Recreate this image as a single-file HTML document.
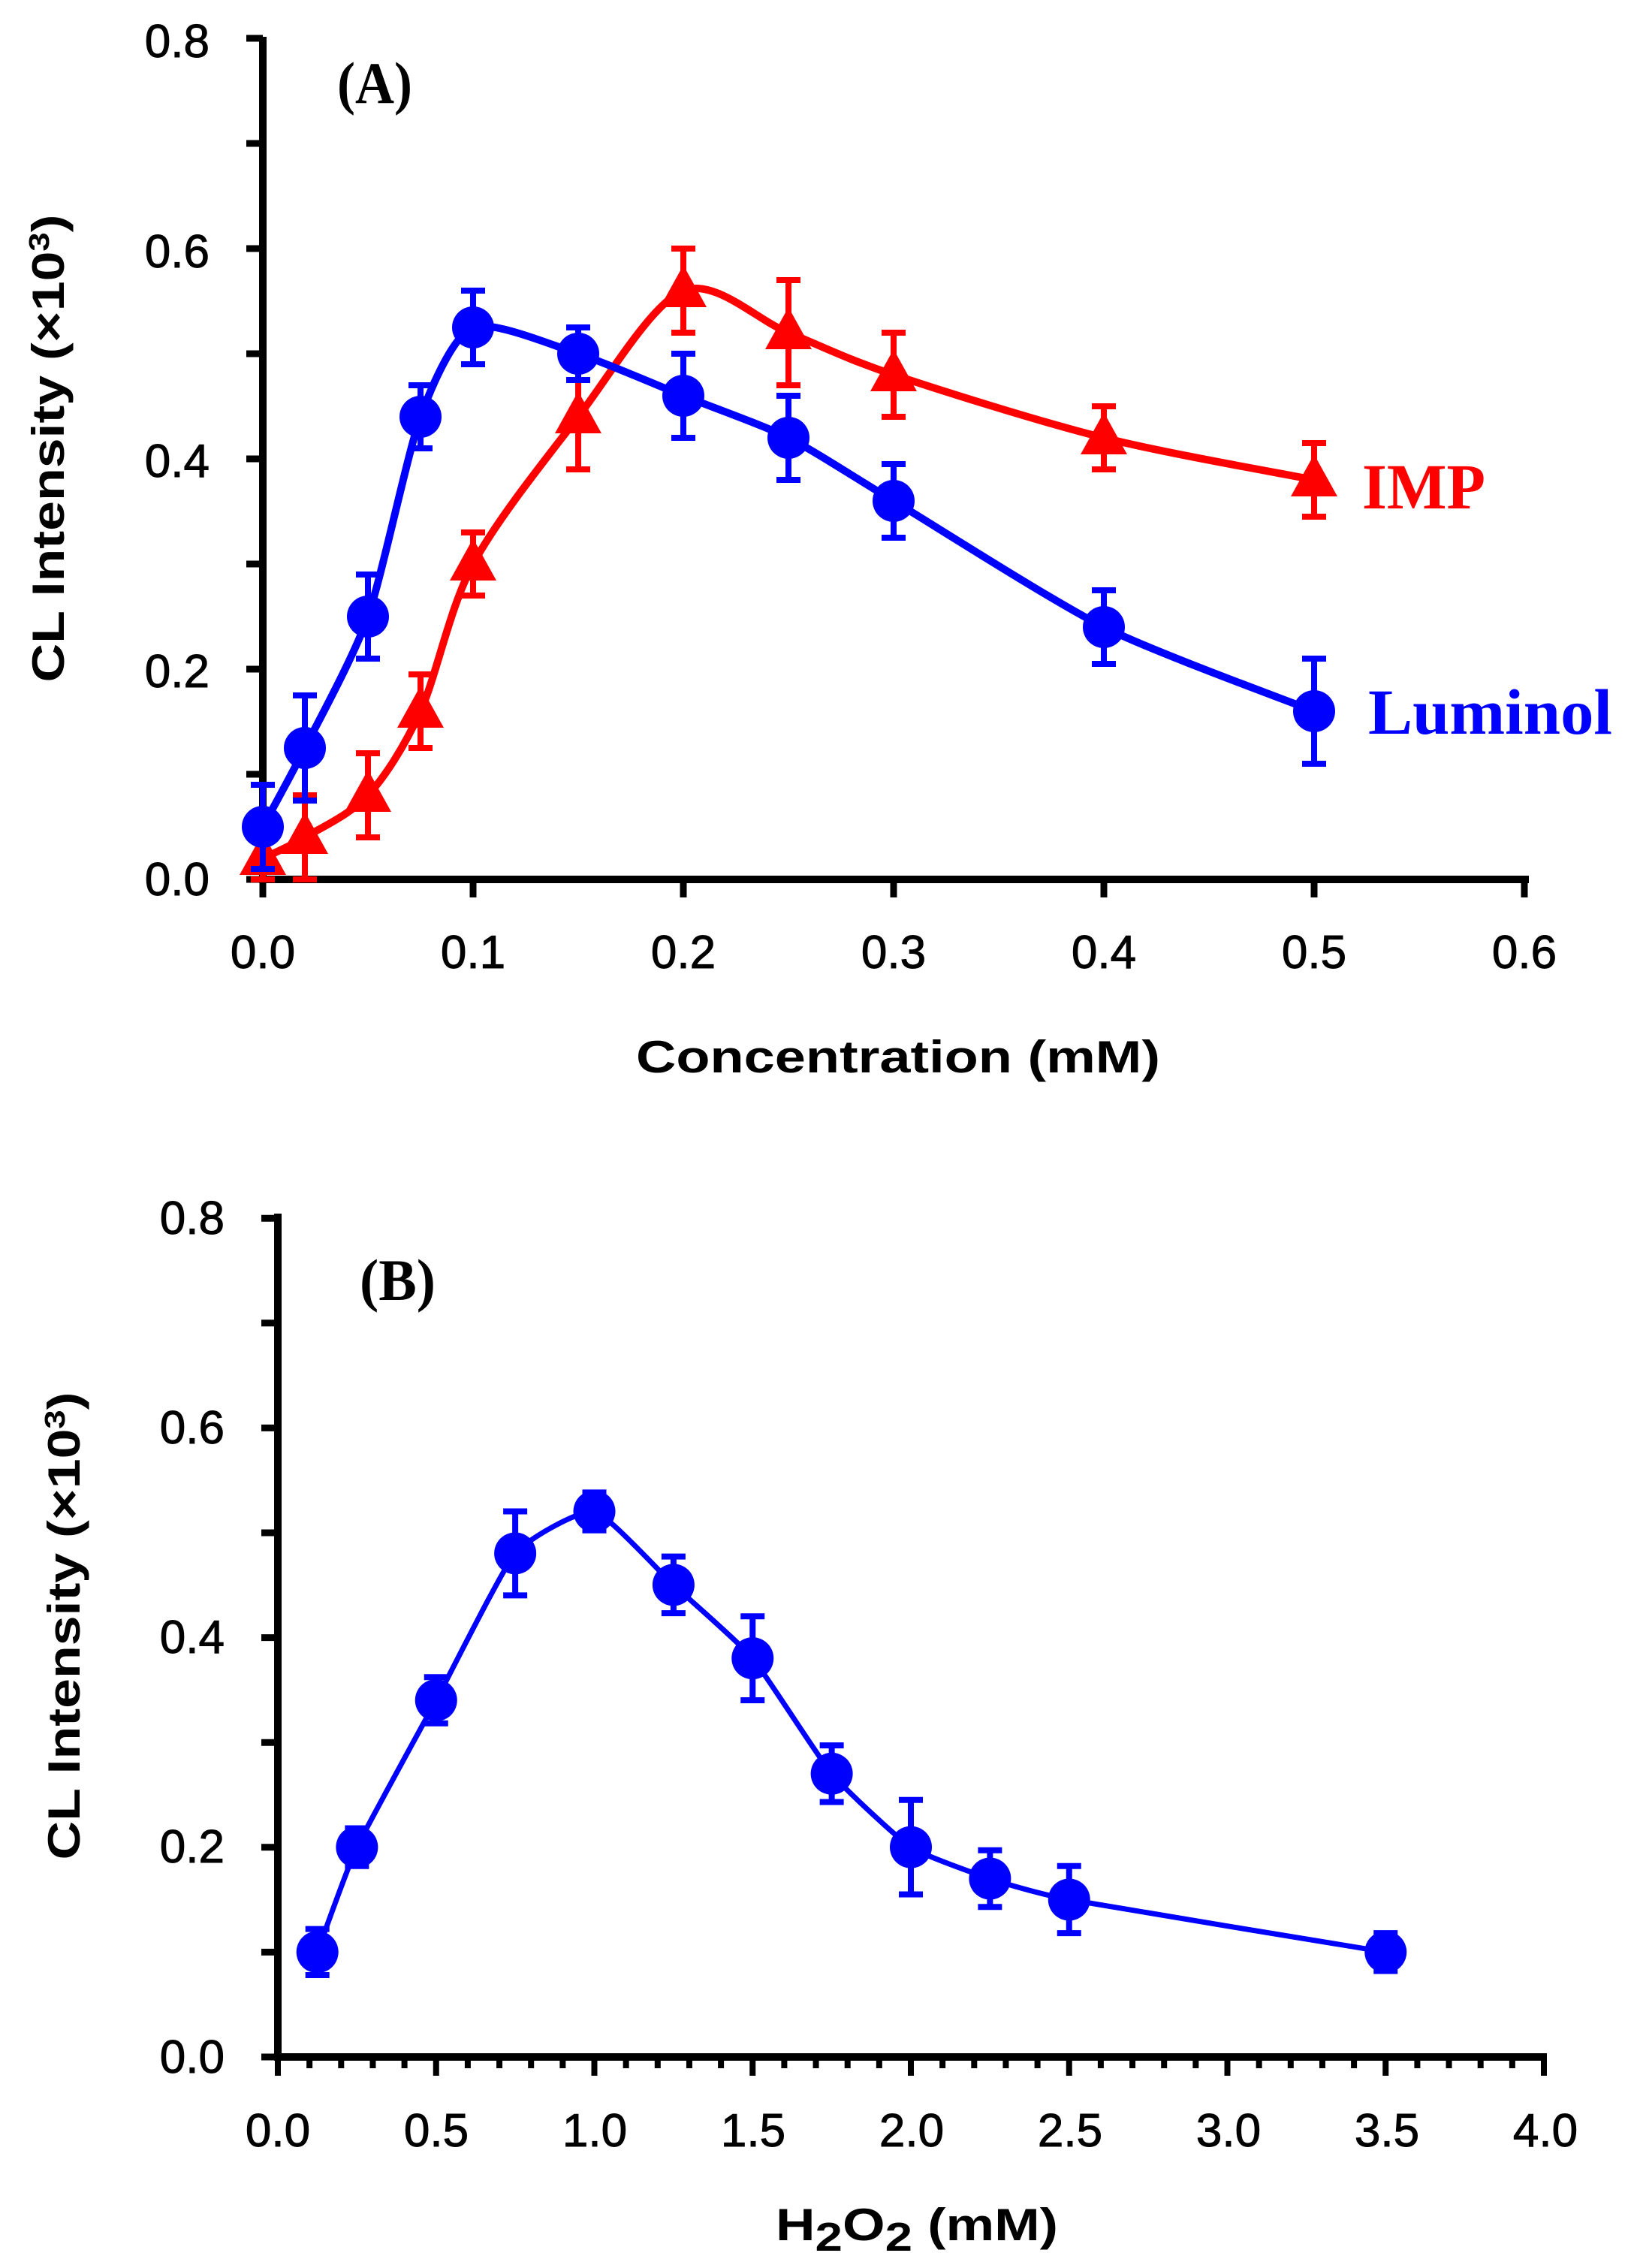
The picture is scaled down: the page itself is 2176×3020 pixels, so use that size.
<!DOCTYPE html>
<html><head><meta charset="utf-8"><style>
html,body{margin:0;padding:0;background:#fff;}
svg{display:block;}
.tk{font-family:"Liberation Sans",sans-serif;font-size:62px;fill:#000;stroke:#000;stroke-width:1;}
.tit{font-family:"Liberation Sans",sans-serif;font-weight:bold;font-size:60px;fill:#000;}
.ser{font-family:"Liberation Serif",serif;font-weight:bold;}
</style></head><body>
<svg id="s" width="2176" height="3020" viewBox="0 0 2176 3020" xmlns="http://www.w3.org/2000/svg">
<rect width="2176" height="3020" fill="#fff"/>
<g id="g"></g>
<g class="tk" text-anchor="end">
<text x="279" y="76">0.8</text>
<text x="279" y="356">0.6</text>
<text x="279" y="635">0.4</text>
<text x="279" y="915">0.2</text>
<text x="279" y="1192">0.0</text>
</g>
<g class="tk" text-anchor="middle">
<text x="350" y="1289">0.0</text>
<text x="630" y="1289">0.1</text>
<text x="910" y="1289">0.2</text>
<text x="1190" y="1289">0.3</text>
<text x="1470" y="1289">0.4</text>
<text x="1750" y="1289">0.5</text>
<text x="2030" y="1289">0.6</text>
</g>
<text class="tit" x="1196" y="1428" text-anchor="middle" textLength="698" lengthAdjust="spacingAndGlyphs">Concentration (mM)</text>
<text class="tit" transform="translate(85,597) rotate(-90)" text-anchor="middle" textLength="623" lengthAdjust="spacingAndGlyphs">CL Intensity (×10<tspan font-size="38" dy="-20">3</tspan><tspan dy="20">)</tspan></text>
<text class="ser" x="449" y="137" font-size="78" textLength="100" lengthAdjust="spacingAndGlyphs">(A)</text>
<text class="ser" x="1814" y="677" font-size="86" fill="#ff0000" textLength="164" lengthAdjust="spacingAndGlyphs">IMP</text>
<text class="ser" x="1822" y="977" font-size="86" fill="#0000ff" textLength="325" lengthAdjust="spacingAndGlyphs">Luminol</text>
<g class="tk" text-anchor="end">
<text x="299" y="1643">0.8</text>
<text x="299" y="1922">0.6</text>
<text x="299" y="2201">0.4</text>
<text x="299" y="2480">0.2</text>
<text x="299" y="2760">0.0</text>
</g>
<g class="tk" text-anchor="middle">
<text x="370" y="2858">0.0</text>
<text x="581" y="2858">0.5</text>
<text x="792" y="2858">1.0</text>
<text x="1003" y="2858">1.5</text>
<text x="1214" y="2858">2.0</text>
<text x="1425" y="2858">2.5</text>
<text x="1636" y="2858">3.0</text>
<text x="1847" y="2858">3.5</text>
<text x="2058" y="2858">4.0</text>
</g>
<text class="tit" x="1221" y="2983" text-anchor="middle" font-size="82" textLength="376" lengthAdjust="spacingAndGlyphs">H<tspan font-size="54" dy="14">2</tspan><tspan dy="-14">O</tspan><tspan font-size="54" dy="14">2</tspan><tspan dy="-14"> (mM)</tspan></text>
<text class="tit" transform="translate(106,2165) rotate(-90)" text-anchor="middle" textLength="623" lengthAdjust="spacingAndGlyphs">CL Intensity (×10<tspan font-size="38" dy="-20">3</tspan><tspan dy="20">)</tspan></text>
<text class="ser" x="479" y="1731" font-size="78" textLength="101" lengthAdjust="spacingAndGlyphs">(B)</text>
</svg>
<script>
var g=document.getElementById('g'),NS='http://www.w3.org/2000/svg';
function el(t,a){var e=document.createElementNS(NS,t);for(var k in a)e.setAttribute(k,a[k]);g.appendChild(e);return e;}
function line(x1,y1,x2,y2,c,w){el('line',{x1:x1,y1:y1,x2:x2,y2:y2,stroke:c,'stroke-width':w});}
var AX=350,AY=1171,AXS=2800,AYS=1400;
line(AX,49,AX,AY+5,'#000',10);
line(AX-5,AY,2036,AY,'#000',10);
for(var i=0;i<=8;i++){line(AX-22,AY-i*140,AX,AY-i*140,'#000',9);}
for(var i=0;i<=6;i++){line(AX+i*280,AY,AX+i*280,AY+24,'#000',9);}
var BX=370,BY=2739,BXS=421.5,BYS=1397;
line(BX,1616,BX,BY+5,'#000',10);
line(BX-5,BY,2060,BY,'#000',10);
for(var i=0;i<=8;i++){line(BX-22,BY-i*139.6,BX,BY-i*139.6,'#000',9);}
for(var i=0;i<=40;i++){var x=BX+i*BXS/10;line(x,BY,x,BY+(i%5==0?25:15),'#000',8);}
function spline(p,t){
  var d='M'+p[0][0]+','+p[0][1];
  for(var i=0;i<p.length-1;i++){
    var p0=p[i-1]||p[i],p1=p[i],p2=p[i+1],p3=p[i+2]||p2;
    var c1x=p1[0]+(p2[0]-p0[0])*t,c1y=p1[1]+(p2[1]-p0[1])*t;
    var c2x=p2[0]-(p3[0]-p1[0])*t,c2y=p2[1]-(p3[1]-p1[1])*t;
    d+=' C'+c1x+','+c1y+' '+c2x+','+c2y+' '+p2[0]+','+p2[1];
  }
  return d;
}
function series(d,ox,oy,sx,sy,c,lw,mk,t){
  var p=d.map(function(q){return [ox+q[0]*sx,oy-q[1]*sy,q[2]*sy];});
  el('path',{d:spline(p,t),fill:'none',stroke:c,'stroke-width':lw,'stroke-linejoin':'round'});
  p.forEach(function(q){
    line(q[0],q[1]-q[2],q[0],q[1]+q[2],c,8);
    line(q[0]-16,q[1]-q[2],q[0]+16,q[1]-q[2],c,8);
    line(q[0]-16,q[1]+q[2],q[0]+16,q[1]+q[2],c,8);
    if(mk=='c')el('circle',{cx:q[0],cy:q[1],r:28,fill:c});
    else el('polygon',{points:(q[0])+','+(q[1]-34)+' '+(q[0]-31)+','+(q[1]+22)+' '+(q[0]+31)+','+(q[1]+22),fill:c});
  });
}
series([[0,0.02,0.02],[0.02,0.04,0.04],[0.05,0.08,0.04],[0.075,0.16,0.035],[0.1,0.3,0.03],[0.15,0.44,0.05],[0.2,0.56,0.04],[0.25,0.52,0.05],[0.3,0.48,0.04],[0.4,0.42,0.03],[0.5,0.38,0.035]],AX,AY,AXS,AYS,'#ff0000',10,'t',0.15);
series([[0,0.05,0.04],[0.02,0.125,0.05],[0.05,0.25,0.04],[0.075,0.44,0.03],[0.1,0.525,0.035],[0.15,0.5,0.025],[0.2,0.46,0.04],[0.25,0.42,0.04],[0.3,0.36,0.035],[0.4,0.24,0.035],[0.5,0.16,0.05]],AX,AY,AXS,AYS,'#0000ff',10,'c',0.12);
series([[0.125,0.1,0.022],[0.25,0.2,0.018],[0.5,0.34,0.022],[0.75,0.48,0.04],[1.0,0.52,0.018],[1.25,0.45,0.027],[1.5,0.38,0.04],[1.75,0.27,0.027],[2.0,0.2,0.045],[2.25,0.17,0.027],[2.5,0.15,0.032],[3.5,0.1,0.018]],BX,BY,BXS,BYS,'#0000ff',7,'c',0.08);
</script>
</body></html>
